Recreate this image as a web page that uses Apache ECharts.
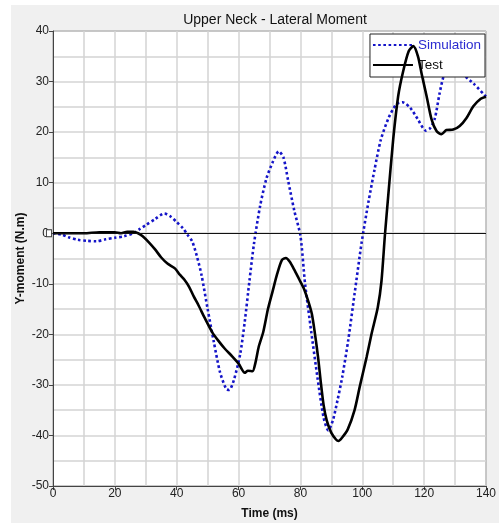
<!DOCTYPE html>
<html>
<head>
<meta charset="utf-8">
<script src="https://cdn.jsdelivr.net/npm/echarts@6/dist/echarts.min.js"></script>
<style>
html,body{margin:0;padding:0;background:#fff;}
#panel{position:absolute;left:11px;top:5px;width:488px;height:518px;background:#f0f0f0;}
#chart{position:absolute;left:0;top:0;width:502px;height:525px;}
</style>
</head>
<body>
<div id="panel"></div>
<div id="chart"></div>
<script>
// ---- data ----
const titleText = 'Upper Neck - Lateral Moment';
const xName = 'Time (ms)';
const yName = 'Y-moment (N.m)';
const seriesNames = ['Simulation', 'Test'];

const simTime = [0,3,5,8,11,14,17,20,23,26,28,30,33,36,38,40,42,43.5,45,46.5,48,50,52,54,56,57,58.5,60.5,62,63.5,65,67,69,71,73,74.5,76,78,80,81.5,83.5,85.5,87.5,89,90.5,92,93.5,95.5,97.5,99.8,102,104,106,108.5,111,113,115.5,118,120.5,122,123.5,125,126.5,128.5,130.5,132.5,136,140];
const simValue = [0,-0.3,-0.8,-1.3,-1.5,-1.6,-1.2,-0.9,-0.6,0,0.8,1.6,2.8,3.9,3.3,2.2,1.0,-0.3,-1.6,-4.5,-8.2,-15,-21.5,-27.5,-30.8,-31,-29,-24,-17.5,-9.5,-2,5.5,10.8,14,16.2,15,10.5,4.5,-0.5,-10,-19.5,-28.5,-36.5,-39,-37,-33,-28.5,-21,-12,-1.8,6.2,12.7,18.5,22.8,25.5,25.9,24.8,22.5,20.3,20.8,22.8,27.7,31.5,33.8,33.5,31.5,29.6,27.0];

const testTime = [0,5,10,15,20,22,24,26,27.5,29,31,33,35,37,39.5,41,42.5,44,45.5,47,49,51.5,53.5,55.5,58,60,62,63,64.5,65.5,66.5,68,69.5,71,72.5,74,75.3,76.5,78,79.5,81,82.5,83.7,84.7,85.7,86.5,87.5,88.5,90,91.5,92.3,93.5,95.3,97.5,99.2,101.4,103,105,106.2,107.3,108.4,110,111.6,113.2,115,116.5,118,119.2,120.8,122.4,124,125.6,127.2,129.4,131.5,133.7,135.9,138.3,140];
const testValue = [0,0,0,0.2,0.2,0,0.3,0.3,0,-0.6,-1.8,-3.2,-4.8,-6,-7,-8.2,-9.2,-10.6,-12.5,-14.2,-16.7,-19.6,-21.3,-22.8,-24.4,-25.8,-27.6,-27.2,-27.3,-25.5,-22.5,-19.5,-15,-11.5,-8,-5.3,-4.9,-5.6,-7.2,-9,-10.8,-13.4,-16,-19.9,-24.5,-29,-34,-37,-39.5,-40.8,-41.1,-40.4,-38.8,-35,-30.3,-24.5,-19.9,-14.7,-9.5,-0.5,7.5,18.6,27.1,32,36,37,35,31.5,27.1,22.5,20.2,19.6,20.4,20.5,21.2,22.8,25.1,26.6,27];

const xMin = 0, xMax = 140, xStep = 20;
const yMin = -50, yMax = 40, yStep = 10;

const zip = (a, b) => a.map((t, i) => [t, b[i]]);

const chart = echarts.init(document.getElementById('chart'), null, {renderer: 'canvas'});
const font = 'Liberation Sans, Arial, sans-serif';

chart.setOption({
  animation: false,
  backgroundColor: 'transparent',
  textStyle: {fontFamily: font},
  title: {
    text: titleText,
    left: 270, top: 8, textAlign: 'center',
    textStyle: {fontSize: 14, fontWeight: 'normal', color: '#111', fontFamily: font}
  },
  legend: {
    orient: 'vertical',
    right: 17, top: 34,
    backgroundColor: '#fff',
    borderColor: '#222', borderWidth: 1,
    padding: [4, 4, 5, 2],
    itemGap: 6,
    itemWidth: 40, itemHeight: 14,
    itemStyle: {opacity: 0},
    textStyle: {fontSize: 13.5, fontFamily: font},
    data: [
      {name: seriesNames[0], textStyle: {color: '#2a2ad0'}},
      {name: seriesNames[1], textStyle: {color: '#111'}}
    ]
  },
  grid: {
    left: 53, top: 31, width: 433, height: 460,
    show: true, backgroundColor: '#fff', borderColor: '#444', borderWidth: 1
  },
  xAxis: {
    type: 'value', min: xMin, max: xMax, interval: xStep,
    name: xName, nameLocation: 'middle', nameGap: 22, nameMoveOverlap: false,
    nameTextStyle: {fontWeight: 'bold', fontSize: 12, color: '#111', fontFamily: font},
    axisLine: {show: true, onZero: false, lineStyle: {color: '#444'}},
    axisTick: {show: true, length: 4, lineStyle: {color: '#444'}},
    axisLabel: {fontSize: 12, color: '#222', margin: 2, fontFamily: font},
    splitLine: {show: true, lineStyle: {color: '#d4d4d4', width: 1.5}},
    minorTick: {show: false, splitNumber: 2},
    minorSplitLine: {show: true, lineStyle: {color: '#d4d4d4', width: 1.5}}
  },
  yAxis: {
    type: 'value', min: yMin, max: yMax, interval: yStep,
    name: yName, nameLocation: 'middle', nameGap: 26, nameMoveOverlap: false,
    nameTextStyle: {fontWeight: 'bold', fontSize: 12, color: '#111', fontFamily: font},
    axisLine: {show: true, onZero: false, lineStyle: {color: '#444'}},
    axisTick: {show: true, length: 4, lineStyle: {color: '#444'}},
    axisLabel: {fontSize: 12, color: '#222', margin: 4, fontFamily: font},
    splitLine: {show: true, lineStyle: {color: '#d4d4d4', width: 1.5}},
    minorTick: {show: false, splitNumber: 2},
    minorSplitLine: {show: true, lineStyle: {color: '#d4d4d4', width: 1.5}}
  },
  series: [
    {
      name: seriesNames[0], type: 'line', showSymbol: false, symbol: 'none',
      smooth: 0.25, z: 3,
      data: zip(simTime, simValue),
      lineStyle: {color: '#1414c8', width: 2.6, type: [2.6, 2.6]},
      itemStyle: {color: '#1414c8'},
      markLine: {
        silent: true, symbol: 'none', label: {show: false},
        lineStyle: {color: '#111', width: 1, type: 'solid'},
        data: [{yAxis: 0}]
      },
      markPoint: {
        silent: true, symbol: 'rect', symbolSize: [5, 7], symbolOffset: [-4, 0],
        label: {show: false},
        itemStyle: {color: '#fff', borderColor: '#333', borderWidth: 1},
        data: [{coord: [0, 0]}]
      }
    },
    {
      name: seriesNames[1], type: 'line', showSymbol: false, symbol: 'none',
      smooth: 0.25, z: 4,
      data: zip(testTime, testValue),
      lineStyle: {color: '#000', width: 2.6, type: 'solid'},
      itemStyle: {color: '#000'}
    }
  ]
});
</script>
</body>
</html>
